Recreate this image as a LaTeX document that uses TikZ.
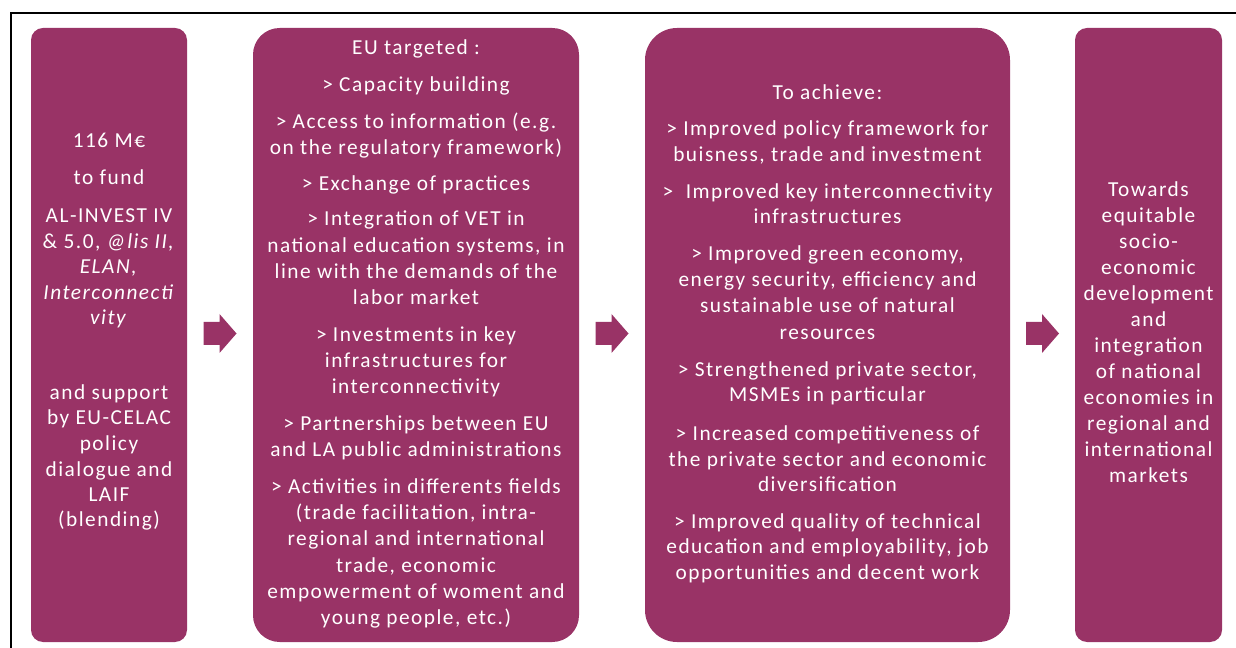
\documentclass[tikz,border=0pt]{standalone}
\usepackage{fontspec}
\usetikzlibrary{calc}
\newfontfamily\boxfont{Carlito}[LetterSpace=7]
\definecolor{plum}{RGB}{153,51,102}
\begin{document}
\begin{tikzpicture}[x=0.75pt,y=-0.75pt,
  box/.style={fill=plum, draw=none, inner sep=0pt},
  ln/.style={anchor=base, text=white, inner sep=0pt, font=\boxfont\fontsize{16pt}{19.5pt}\selectfont},
  blockarrow/.style={fill=plum, draw=none}]
\useasboundingbox (0,0) rectangle (1236,648);
\draw[line width=1.5pt] (11,648) -- (11,13.5) -- (1236,13.5);
% boxes
\node[box, rounded corners=9pt, minimum width=156*0.75pt, minimum height=614*0.75pt] (b1) at (109,335) {};
\node[box, rounded corners=20pt, minimum width=326*0.75pt, minimum height=614*0.75pt] (b2) at (416,335) {};
\node[box, rounded corners=24pt, minimum width=365*0.75pt, minimum height=614*0.75pt] (b3) at (827.5,335) {};
\node[box, rounded corners=9pt, minimum width=147*0.75pt, minimum height=614*0.75pt] (b4) at (1148.5,335) {};
% arrows between boxes
\coordinate (m1) at ($(b1.east)!0.5!(b2.west)+(0,-1.5)$);
\coordinate (m2) at ($(b2.east)!0.5!(b3.west)+(0,-1.5)$);
\coordinate (m3) at ($(b3.east)!0.5!(b4.west)+(0,-1.5)$);
\foreach \m in {m1,m2,m3}
  \fill[blockarrow] ($(\m)+(-16.5,-11.5)$) -- ($(\m)+(-0.5,-11.5)$) -- ($(\m)+(-0.5,-19.5)$)
     -- ($(\m)+(16.5,0)$) -- ($(\m)+(-0.5,19.5)$) -- ($(\m)+(-0.5,11.5)$) -- ($(\m)+(-16.5,11.5)$) -- cycle;
% box 1 text
\foreach \yy/\tx [count=\i] in {148/{116 M€}, 185/{to fund}, 223/{AL-INVEST IV},
  249/{\& 5.0, \textit{@lis II,}}, 274/{\textit{ELAN,}}, 300/{\textit{Interconnecti}}, 325/{\textit{vity}},
  400/{and support}, 425/{by EU-CELAC}, 451/{policy}, 477/{dialogue and}, 502/{LAIF}, 527/{(blending)}}
  \node[ln] (ta\i) at (109,\yy) {\tx};
% box 2 text
\foreach \yy/\tx [count=\i] in {55/{EU targeted :}, 92/{> Capacity building},
  129/{> Access to information (e.g.}, 155/{on the regulatory framework)},
  191/{> Exchange of practices},
  226/{> Integration of VET in}, 253/{national education systems, in}, 279/{line with the demands of the}, 305/{labor market},
  342/{> Investments in key}, 368/{infrastructures for}, 394/{interconnectivity},
  431/{> Partnerships between EU}, 457/{and LA public administrations},
  494/{> Activities in differents fields}, 520/{(trade facilitation, intra-}, 546/{regional and international},
  572/{trade, economic}, 598/{empowerment of woment and}, 624/{young people, etc.)}}
  \node[ln] (tb\i) at (416,\yy) {\tx};
% box 3 text
\foreach \yy/\tx [count=\i] in {100/{To achieve:},
  136/{> Improved policy framework for}, 162/{buisness, trade and investment},
  199/{>\ \ Improved key interconnectivity}, 224/{infrastructures},
  261/{> Improved green economy,}, 287/{energy security, efficiency and}, 313/{sustainable use of natural}, 340/{resources},
  377/{> Strengthened private sector,}, 402/{MSMEs in particular},
  441/{> Increased competitiveness of}, 467/{the private sector and economic}, 492/{diversification},
  528/{> Improved quality of technical}, 554/{education and employability, job}, 580/{opportunities and decent work}}
  \node[ln] (tc\i) at (827.5,\yy) {\tx};
% box 4 text
\foreach \yy/\tx [count=\i] in {197/{Towards}, 223/{equitable}, 249/{socio-}, 275/{economic},
  301/{development}, 327/{and}, 353/{integration}, 379/{of national}, 405/{economies in},
  431/{regional and}, 457/{international}, 483/{markets}}
  \node[ln] (td\i) at (1148.5,\yy) {\tx};
\end{tikzpicture}
\end{document}
